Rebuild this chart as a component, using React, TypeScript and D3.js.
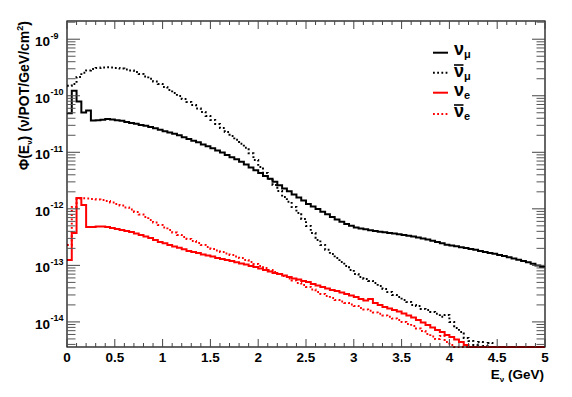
import React from "react";
import * as d3 from "d3";

// flux per 0.05 GeV bin, from 0 to 5 GeV (nu/POT/GeV/cm^2)
const binWidth = 0.05;

const nuMu = [
  4.9e-11, 1.23e-10, 7.9e-11, 5.07e-11, 5.5e-11, 3.66e-11, 3.7e-11, 3.78e-11, 3.87e-11, 3.82e-11,
  3.7e-11, 3.6e-11, 3.45e-11, 3.3e-11, 3.2e-11, 3.05e-11, 2.95e-11, 2.8e-11, 2.65e-11, 2.5e-11,
  2.36e-11, 2.25e-11, 2.12e-11, 2.0e-11, 1.85e-11, 1.72e-11, 1.6e-11, 1.5e-11, 1.38e-11, 1.28e-11,
  1.18e-11, 1.08e-11, 9.9e-12, 9.0e-12, 8.2e-12, 7.5e-12, 6.8e-12, 6.1e-12, 5.4e-12, 4.8e-12,
  4.3e-12, 3.8e-12, 3.4e-12, 3.0e-12, 2.6e-12, 2.3e-12, 2.05e-12, 1.8e-12, 1.58e-12, 1.4e-12,
  1.22e-12, 1.1e-12, 9.9e-13, 8.9e-13, 8.0e-13, 7.2e-13, 6.5e-13, 5.9e-13, 5.4e-13, 5.0e-13,
  4.7e-13, 4.5e-13, 4.35e-13, 4.2e-13, 4.05e-13, 3.95e-13, 3.85e-13, 3.75e-13, 3.65e-13, 3.55e-13,
  3.45e-13, 3.35e-13, 3.25e-13, 3.12e-13, 3.0e-13, 2.88e-13, 2.74e-13, 2.6e-13, 2.45e-13, 2.32e-13,
  2.25e-13, 2.17e-13, 2.1e-13, 2.02e-13, 1.95e-13, 1.88e-13, 1.8e-13, 1.73e-13, 1.66e-13, 1.6e-13,
  1.53e-13, 1.46e-13, 1.39e-13, 1.32e-13, 1.26e-13, 1.2e-13, 1.13e-13, 1.07e-13, 1.0e-13, 9.4e-14,
];

const nuMuBar = [
  1.5e-10, 1.62e-10, 2.15e-10, 2.54e-10, 2.81e-10, 2.98e-10, 3.11e-10, 3.17e-10, 3.2e-10, 3.17e-10,
  3.11e-10, 3.02e-10, 2.92e-10, 2.81e-10, 2.64e-10, 2.43e-10, 2.2e-10, 1.99e-10, 1.79e-10, 1.62e-10,
  1.43e-10, 1.27e-10, 1.12e-10, 9.94e-11, 8.79e-11, 7.78e-11, 6.89e-11, 5.97e-11, 5.18e-11, 4.4e-11,
  3.74e-11, 3.18e-11, 2.7e-11, 2.29e-11, 1.95e-11, 1.66e-11, 1.41e-11, 1.2e-11, 9.6e-12, 7.33e-12,
  5.51e-12, 4.32e-12, 3.38e-12, 2.65e-12, 2.07e-12, 1.62e-12, 1.33e-12, 1.08e-12, 8.47e-13, 6.63e-13,
  4.99e-13, 3.75e-13, 2.82e-13, 2.3e-13, 1.88e-13, 1.59e-13, 1.35e-13, 1.15e-13, 9.78e-14, 8.31e-14,
  7.06e-14, 6.25e-14, 5.76e-14, 5.31e-14, 4.9e-14, 4.33e-14, 3.83e-14, 3.39e-14, 3.0e-14, 2.77e-14,
  2.45e-14, 2.26e-14, 2.0e-14, 1.92e-14, 1.7e-14, 1.63e-14, 1.5e-14, 1.39e-14, 1.23e-14, 1.33e-14,
  1.0e-14, 7.83e-15, 6.66e-15, 5.21e-15, 4.61e-15, 3.92e-15, 4.43e-15, 3.76e-15, 4.25e-15, 0,
  0, 0, 0, 0, 0, 0, 0, 0, 0, 0,
];

const nuE = [
  1.25e-13, 3.75e-13, 1.56e-12, 1.17e-12, 4.79e-13, 4.79e-13, 4.89e-13, 4.89e-13, 4.79e-13, 4.6e-13,
  4.41e-13, 4.24e-13, 4.07e-13, 3.91e-13, 3.68e-13, 3.46e-13, 3.25e-13, 3.06e-13, 2.82e-13, 2.6e-13,
  2.45e-13, 2.3e-13, 2.16e-13, 2.04e-13, 1.92e-13, 1.8e-13, 1.73e-13, 1.66e-13, 1.56e-13, 1.5e-13,
  1.44e-13, 1.35e-13, 1.3e-13, 1.25e-13, 1.2e-13, 1.13e-13, 1.08e-13, 1.04e-13, 9.78e-14, 9.39e-14,
  8.84e-14, 8.31e-14, 7.82e-14, 7.36e-14, 7.06e-14, 6.64e-14, 6.25e-14, 5.88e-14, 5.65e-14, 5.31e-14,
  5.1e-14, 4.7e-14, 4.42e-14, 4.16e-14, 3.91e-14, 3.68e-14, 3.53e-14, 3.32e-14, 3.13e-14, 2.94e-14,
  2.77e-14, 2.55e-14, 2.4e-14, 2.55e-14, 2.17e-14, 2.0e-14, 1.84e-14, 1.73e-14, 1.63e-14, 1.53e-14,
  1.41e-14, 1.3e-14, 1.2e-14, 1.08e-14, 9.8e-15, 8.85e-15, 7.99e-15, 7.22e-15, 6.66e-15, 5.89e-15,
  5.43e-15, 4.9e-15, 4.43e-15, 3.92e-15, 0, 0, 0, 0, 0, 0,
  0, 0, 0, 0, 0, 0, 0, 0, 0, 0,
];

const nuEBar = [
  2.3e-13, 1.08e-12, 1.53e-12, 1.54e-12, 1.53e-12, 1.5e-12, 1.47e-12, 1.44e-12, 1.38e-12, 1.3e-12,
  1.22e-12, 1.15e-12, 1.06e-12, 9.77e-13, 8.82e-13, 7.96e-13, 7.2e-13, 6.37e-13, 5.75e-13, 5.19e-13,
  4.69e-13, 4.24e-13, 3.83e-13, 3.46e-13, 3.19e-13, 2.94e-13, 2.71e-13, 2.5e-13, 2.3e-13, 2.12e-13,
  1.95e-13, 1.84e-13, 1.73e-13, 1.63e-13, 1.53e-13, 1.44e-13, 1.35e-13, 1.25e-13, 1.15e-13, 1.06e-13,
  9.78e-14, 9.02e-14, 8.31e-14, 7.66e-14, 7.06e-14, 6.51e-14, 5.88e-14, 5.42e-14, 4.9e-14, 4.51e-14,
  4.16e-14, 3.76e-14, 3.39e-14, 3.13e-14, 2.88e-14, 2.66e-14, 2.45e-14, 2.3e-14, 2.17e-14, 2.04e-14,
  1.92e-14, 1.77e-14, 1.66e-14, 1.57e-14, 1.47e-14, 1.39e-14, 1.3e-14, 1.23e-14, 1.15e-14, 1.08e-14,
  1.0e-14, 9.22e-15, 8.5e-15, 7.67e-15, 6.93e-15, 6.14e-15, 5.54e-15, 5.0e-15, 5.65e-15, 4.43e-15,
  3.92e-15, 0, 0, 0, 0, 0, 0, 0, 0, 0,
  0, 0, 0, 0, 0, 0, 0, 0, 0, 0,
];

const xTickLabels = ["0", "0.5", "1", "1.5", "2", "2.5", "3", "3.5", "4", "4.5", "5"];
const yDecades = [-9, -10, -11, -12, -13, -14];

const W = 572;
const H = 397;
const margin = { top: 21, right: 27, bottom: 50, left: 67 };
const font = "'Liberation Sans', Arial, sans-serif";

const x = d3.scaleLinear().domain([0, 5]).range([margin.left, W - margin.right]);
const yMin = 3.6e-15;
const y = d3.scaleLog().domain([yMin, 2.1e-9]).range([H - margin.bottom, margin.top]);

const series = [
  { name: "mu", bar: false, data: nuMu, color: "#000000", dash: null },
  { name: "mu", bar: true, data: nuMuBar, color: "#000000", dash: "1.8 2.4" },
  { name: "e", bar: false, data: nuE, color: "#ff0000", dash: null },
  { name: "e", bar: true, data: nuEBar, color: "#ff0000", dash: "1.8 2.4" },
];

const stepLine = d3
  .line<[number, number]>()
  .x((d) => x(d[0]))
  .y((d) => y(Math.max(d[1], yMin)))
  .curve(d3.curveStepAfter);

function histPath(vals: number[]) {
  const pts: [number, number][] = vals.map((v, i) => [i * binWidth, v]);
  pts.push([vals.length * binWidth, vals[vals.length - 1]]);
  return stepLine(pts) || "";
}

export default function App() {
  const x0 = margin.left;
  const x1 = W - margin.right;
  const yTop = margin.top;
  const yBot = H - margin.bottom;

  // x ticks every 0.1 GeV, major every 0.5
  const xMinor = d3.range(0, 51).map((i) => i / 10);
  // y minor ticks 2..9 per decade
  const yMinor: number[] = [];
  for (let e = -15; e <= -9; e++) {
    for (let k = 2; k <= 9; k++) {
      const v = k * Math.pow(10, e);
      if (v > yMin && v < 2.1e-9) yMinor.push(v);
    }
  }

  return (
    <svg
      width={W}
      height={H}
      style={{ position: "absolute", left: 0, top: 0, background: "#fff" }}
      fontFamily={font}
    >
      <rect x={0} y={0} width={W} height={H} fill="#fff" />

      {/* histograms */}
      {series.map((s, i) => (
        <path
          key={i}
          d={histPath(s.data)}
          fill="none"
          stroke={s.color}
          strokeWidth={2}
          strokeDasharray={s.dash || undefined}
        />
      ))}

      {/* frame */}
      <rect x={x0} y={yTop} width={x1 - x0} height={yBot - yTop} fill="none" stroke="#000" strokeWidth={1.2} />

      {/* x ticks, bottom and top */}
      {xMinor.map((v, i) => {
        const major = i % 5 === 0;
        const len = major ? 8 : 4;
        return (
          <g key={"xt" + i} stroke="#444" strokeWidth={1}>
            <line x1={x(v)} x2={x(v)} y1={yBot} y2={yBot - len} />
            <line x1={x(v)} x2={x(v)} y1={yTop} y2={yTop + len} />
          </g>
        );
      })}
      {xTickLabels.map((t, i) => (
        <text
          key={"xl" + i}
          x={x(i * 0.5)}
          y={362}
          textAnchor="middle"
          fontSize={13.5}
          fontWeight="bold"
        >
          {t}
        </text>
      ))}

      {/* y ticks, left and right */}
      {yMinor.map((v, i) => (
        <g key={"ym" + i} stroke="#555" strokeWidth={1}>
          <line x1={x0} x2={x0 + 8.5} y1={y(v)} y2={y(v)} />
          <line x1={x1} x2={x1 - 8.5} y1={y(v)} y2={y(v)} />
        </g>
      ))}
      {yDecades.map((e) => {
        const yy = y(Math.pow(10, e));
        return (
          <g key={"yd" + e}>
            <line x1={x0} x2={x0 + 13} y1={yy} y2={yy} stroke="#444" />
            <line x1={x1} x2={x1 - 13} y1={yy} y2={yy} stroke="#444" />
            <text x={50} y={yy + 7} textAnchor="end" fontSize={13.5} fontWeight="bold">
              10
            </text>
            <text x={50.5} y={yy - 0.5} textAnchor="start" fontSize={9} fontWeight="bold">
              {String(e)}
            </text>
          </g>
        );
      })}

      {/* axis titles */}
      <text x={544} y={379} textAnchor="end" fontSize={13.5} fontWeight="bold">
        E
        <tspan fontSize={8} dy={3}>ν</tspan>
        <tspan dy={-3}> (GeV)</tspan>
      </text>
      <text
        transform="translate(29,21) rotate(-90)"
        textAnchor="end"
        fontSize={14}
        fontWeight="bold"
      >
        Φ(E
        <tspan fontSize={8} dy={3}>ν</tspan>
        <tspan dy={-3}>) (ν/POT/GeV/cm</tspan>
        <tspan fontSize={9} dy={-6}>2</tspan>
        <tspan dy={6}>)</tspan>
      </text>

      {/* legend */}
      {series.map((s, i) => {
        const ly = [52.7, 72.7, 92.7, 114][i];
        const base = [55, 76.5, 96, 116.5][i];
        return (
          <g key={"lg" + i}>
            <line
              x1={433}
              x2={448}
              y1={ly}
              y2={ly}
              stroke={s.color}
              strokeWidth={2}
              strokeDasharray={s.dash || undefined}
            />
            <text x={454} y={base} fontSize={18} fontWeight="bold">
              ν
              <tspan fontSize={11} dy={3}>
                {s.name === "mu" ? "μ" : "e"}
              </tspan>
            </text>
            {s.bar && <line x1={454} x2={463.5} y1={base - 11.5} y2={base - 11.5} stroke="#000" strokeWidth={1.6} />}
          </g>
        );
      })}
    </svg>
  );
}
